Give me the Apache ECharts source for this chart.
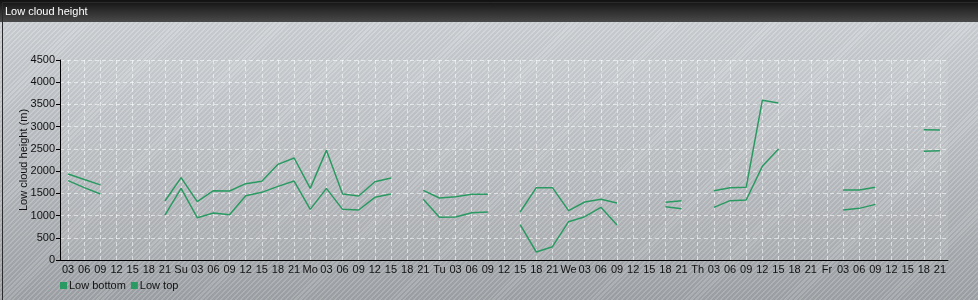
<!DOCTYPE html>
<html>
<head>
<meta charset="utf-8">
<script src="https://cdn.jsdelivr.net/npm/echarts@6/dist/echarts.min.js"></script>
<style>
html,body{margin:0;padding:0;}
body{width:978px;height:300px;overflow:hidden;
background:
 repeating-linear-gradient(135deg, rgba(255,255,255,0.13) 0px, rgba(255,255,255,0.13) 1.5px, rgba(0,0,0,0.03) 1.5px, rgba(0,0,0,0.03) 3.5px),
 linear-gradient(to bottom, #d0d4d8 0%, #b8bcc0 55%, #9fa3a7 100%);}
#chart{width:978px;height:300px;}
</style>
</head>
<body>
<div id="chart"></div>
<script>
const titleText = 'Low cloud height';
const yAxisName = 'Low cloud height (m)';
const categories = [
 '03','06','09','12','15','18','21',
 'Su','03','06','09','12','15','18','21',
 'Mo','03','06','09','12','15','18','21',
 'Tu','03','06','09','12','15','18','21',
 'We','03','06','09','12','15','18','21',
 'Th','03','06','09','12','15','18','21',
 'Fr','03','06','09','12','15','18','21'
];
const lowBottom = [
 1785,1628,1485,null,null,null,1012,
 1612,952,1057,1020,1447,1522,1657,1777,
 1140,1612,1140,1125,1410,1485,null,1365,
 960,967,1065,1080,null,795,180,300,
 862,975,1185,787,null,null,1200,1155,
 null,1185,1335,1350,2107,2497,null,null,
 null,1125,1162,1252,null,null,2445,2460
];
const lowTop = [
 1935,1810,1690,null,null,null,1327,
 1852,1312,1560,1552,1717,1770,2152,2295,
 1612,2467,1485,1440,1762,1845,null,1567,
 1395,1425,1477,1477,null,1080,1627,1627,
 1110,1305,1365,1282,null,null,1297,1335,
 null,1560,1627,1635,3592,3532,null,null,
 null,1575,1575,1635,null,null,2932,2925
];
const seriesNames = ['Low bottom','Low top'];
const lineColor = '#2a9a62';

const chart = echarts.init(document.getElementById('chart'), null, {renderer:'canvas'});
const font = 'Liberation Sans, Arial, sans-serif';
chart.setOption({
  backgroundColor: 'transparent',
  animation: false,
  textStyle: {fontFamily: font},
  graphic: [
    {type:'rect', left:0, top:0, z:-1, shape:{width:978, height:22},
     style:{fill:new echarts.graphic.LinearGradient(0,0,0,1,[{offset:0,color:'#111'},{offset:1,color:'#4a4a4a'}])}},
    {type:'rect', left:0, top:0, z:100, silent:true, shape:{x:0.5,y:0.5,width:977,height:299},
     style:{fill:'none', stroke:'#2a2a2a', lineWidth:1}}
  ],
  title: {text: titleText, left: 0, top: 1,
    textStyle:{color:'#fff', fontSize:11, fontWeight:'normal', fontFamily:font}},
  legend: {
    left: 55, top: 275, itemWidth: 7, itemHeight: 7, itemGap: 5,
    icon: 'rect',
    textStyle:{color:'#111', fontSize:11, fontFamily:font, padding:[0,0,0,-3]},
    data: seriesNames
  },
  grid: {left:60, top:60, right:30, bottom:40, show:true, backgroundColor:'rgba(255,255,255,0.07)', borderWidth:0},
  xAxis: {
    type:'category', data: categories, boundaryGap:true,
    axisLine:{lineStyle:{color:'#000', width:1}},
    axisTick:{alignWithLabel:true, length:4, lineStyle:{color:'#000'}},
    axisLabel:{interval:0, color:'#111', fontSize:11, margin:4, fontFamily:font},
    splitLine:{show:true, alignWithLabel:true, lineStyle:{color:'rgba(255,255,255,0.55)', type:[4,3], width:1}}
  },
  yAxis: {
    type:'value', min:0, max:4500, interval:500,
    name: yAxisName, nameLocation:'middle', nameGap:31, nameMoveOverlap:false,
    nameTextStyle:{color:'#111', fontSize:11, fontFamily:font},
    axisLine:{show:true, lineStyle:{color:'#000', width:1}},
    axisTick:{show:true, length:4, lineStyle:{color:'#000'}},
    axisLabel:{color:'#111', fontSize:11, margin:5, fontFamily:font, formatter: v => String(v)},
    splitLine:{show:true, lineStyle:{color:'rgba(255,255,255,0.55)', type:[4,3], width:1}}
  },
  series: [
    {name: seriesNames[0], type:'line', data: lowBottom, showSymbol:false, connectNulls:false,
     itemStyle:{color:lineColor}, lineStyle:{color:lineColor, width:1.5}},
    {name: seriesNames[1], type:'line', data: lowTop, showSymbol:false, connectNulls:false,
     itemStyle:{color:lineColor}, lineStyle:{color:lineColor, width:1.5}}
  ]
});
</script>
</body>
</html>
